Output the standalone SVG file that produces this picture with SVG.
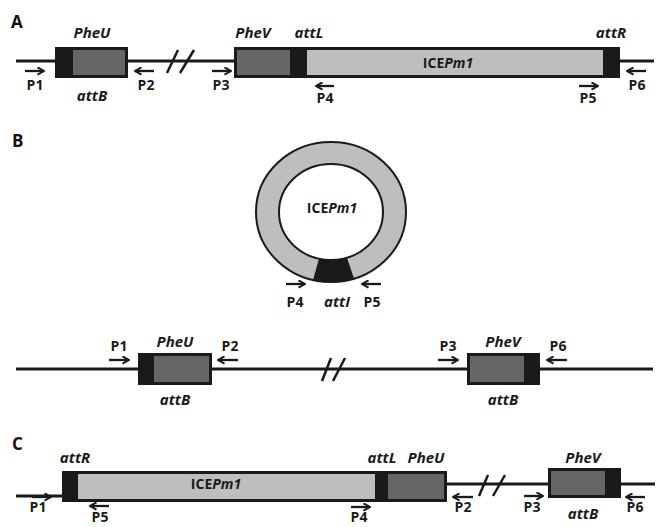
<svg xmlns="http://www.w3.org/2000/svg" width="656" height="527" viewBox="0 0 656 527">
<style>
.bb{stroke:#1a1a1a;stroke-width:3;fill:none}
.sl{stroke:#1a1a1a;stroke-width:2.5;fill:none}
.ar{stroke:#1a1a1a;stroke-width:2.3;fill:none;marker-end:url(#ah)}
.dk{fill:#666666;stroke:#1a1a1a;stroke-width:3}
.bk{fill:#1a1a1a}
.p{font-family:"Open Sans","Liberation Sans",sans-serif;font-weight:bold;font-size:14px;fill:#1a1a1a;text-anchor:middle}
.g{font-family:"Open Sans","Liberation Sans",sans-serif;font-weight:bold;font-style:italic;font-size:15px;fill:#1a1a1a;text-anchor:middle}
.ice{font-family:"Open Sans","Liberation Sans",sans-serif;font-weight:bold;font-size:14px;fill:#1a1a1a;text-anchor:middle}
.lab{font-family:"Open Sans","Liberation Sans",sans-serif;font-weight:bold;font-size:17px;fill:#111}
</style>
<defs>
<marker id="ah" viewBox="0 0 9 9" refX="8" refY="4.5" markerWidth="9" markerHeight="9" markerUnits="userSpaceOnUse" orient="auto">
<path d="M1.5,0.8 L8,4.5 L1.5,8.2" fill="none" stroke="#1a1a1a" stroke-width="2"/>
</marker>
</defs>

<g id="connectors">
<line class="bb" x1="16" y1="61" x2="55" y2="61"/>
<line class="bb" x1="128" y1="61" x2="234" y2="61"/>
<line class="bb" x1="620" y1="61" x2="654" y2="61"/>
<line class="sl" x1="167" y1="73" x2="178" y2="50"/>
<line class="sl" x1="180" y1="73" x2="194" y2="50"/>
<line class="bb" x1="16" y1="369" x2="138" y2="369"/>
<line class="bb" x1="212" y1="369" x2="467" y2="369"/>
<line class="bb" x1="540" y1="369" x2="653" y2="369"/>
<line class="sl" x1="322" y1="381" x2="331" y2="358"/>
<line class="sl" x1="333" y1="381" x2="345" y2="358"/>
<line class="bb" x1="16" y1="496" x2="62" y2="496"/>
<line class="bb" x1="447" y1="484" x2="548" y2="484"/>
<line class="bb" x1="621" y1="484" x2="655" y2="484"/>
<line class="sl" x1="479" y1="496" x2="488" y2="475"/>
<line class="sl" x1="493" y1="496" x2="505" y2="475"/>
</g>

<g id="panel-labels">
<text class="lab" x="11" y="28">A</text>
<text class="lab" x="12" y="147">B</text>
<text class="lab" x="12" y="450">C</text>
</g>

<g id="A-pheU">
<rect class="dk" x="56.5" y="48.5" width="70" height="28"/>
<rect class="bk" x="55" y="47" width="18" height="31"/>
<text class="g" x="92" y="38">PheU</text>
<text class="g" x="92" y="101">attB</text>
</g>
<g id="A-ice">
<rect x="235.5" y="48.5" width="383" height="28" fill="#bebebe" stroke="#1a1a1a" stroke-width="3"/>
<rect x="237" y="50" width="53" height="25" fill="#666666"/>
<rect class="bk" x="290" y="47" width="17" height="31"/>
<rect class="bk" x="603" y="47" width="17" height="31"/>
<text class="g" x="253" y="38">PheV</text>
<text class="g" x="309" y="38">attL</text>
<text class="g" x="611" y="38">attR</text>
<text class="ice" x="448" y="68">ICE<tspan font-style="italic">Pm1</tspan></text>
</g>
<g id="A-primers">
<line class="ar" x1="25" y1="71" x2="44" y2="71"/><text class="p" x="35" y="90">P1</text>
<line class="ar" x1="154" y1="71" x2="135" y2="71"/><text class="p" x="146" y="90">P2</text>
<line class="ar" x1="212" y1="71" x2="231" y2="71"/><text class="p" x="221" y="90">P3</text>
<line class="ar" x1="334" y1="86" x2="316" y2="86"/><text class="p" x="325" y="103">P4</text>
<line class="ar" x1="579" y1="86" x2="598" y2="86"/><text class="p" x="588" y="103">P5</text>
<line class="ar" x1="646" y1="71" x2="627" y2="71"/><text class="p" x="637" y="90">P6</text>
</g>

<g id="B-circle">
<path d="M256,212 A75,70 0 1 0 406,212 A75,70 0 1 0 256,212 Z M279,212 A52,48 0 1 0 383,212 A52,48 0 1 0 279,212 Z" fill="#bebebe" fill-rule="evenodd"/>
<path class="bk" d="M313,280 A75,70 0 0 0 354,278.6 L347,257.7 A52,48 0 0 1 319,258.7 Z"/>
<ellipse cx="331" cy="212" rx="75" ry="70" fill="none" stroke="#1a1a1a" stroke-width="2"/>
<ellipse cx="331" cy="212" rx="52" ry="48" fill="none" stroke="#1a1a1a" stroke-width="2"/>
<text class="ice" x="332" y="213" font-size="15">ICE<tspan font-style="italic">Pm1</tspan></text>
<line class="ar" x1="286" y1="284" x2="305" y2="284"/><text class="p" x="295" y="307">P4</text>
<text class="g" x="337" y="307">attI</text>
<line class="ar" x1="381" y1="284" x2="362" y2="284"/><text class="p" x="372" y="307">P5</text>
</g>

<g id="B-pheU">
<rect class="dk" x="139.5" y="354.5" width="71" height="29"/>
<rect class="bk" x="138" y="353" width="16" height="32"/>
<text class="g" x="175" y="347">PheU</text>
<text class="g" x="175" y="405">attB</text>
</g>
<g id="B-pheV">
<rect class="dk" x="468.5" y="354.5" width="70" height="29"/>
<rect class="bk" x="524" y="353" width="16" height="32"/>
<text class="g" x="503" y="347">PheV</text>
<text class="g" x="503" y="405">attB</text>
</g>
<g id="B-primers">
<line class="ar" x1="109" y1="360" x2="129" y2="360"/><text class="p" x="119" y="351">P1</text>
<line class="ar" x1="238" y1="360" x2="218" y2="360"/><text class="p" x="230" y="351">P2</text>
<line class="ar" x1="438" y1="360" x2="458" y2="360"/><text class="p" x="448" y="351">P3</text>
<line class="ar" x1="567" y1="360" x2="547" y2="360"/><text class="p" x="558" y="351">P6</text>
</g>

<g id="C-ice">
<rect x="63.5" y="472.5" width="382" height="28" fill="#bebebe" stroke="#1a1a1a" stroke-width="3"/>
<rect x="388" y="474" width="56" height="25" fill="#666666"/>
<rect class="bk" x="62" y="471" width="16" height="31"/>
<rect class="bk" x="375" y="471" width="13" height="31"/>
<text class="g" x="75" y="463">attR</text>
<text class="g" x="382" y="463">attL</text>
<text class="g" x="426" y="463">PheU</text>
<text class="ice" x="216" y="489">ICE<tspan font-style="italic">Pm1</tspan></text>
</g>
<g id="C-pheV">
<rect class="dk" x="549.5" y="469.5" width="70" height="27"/>
<rect class="bk" x="605" y="468" width="16" height="30"/>
<text class="g" x="583" y="463">PheV</text>
<text class="g" x="583" y="519">attB</text>
</g>
<g id="C-primers">
<line class="ar" x1="32" y1="497" x2="51" y2="497"/><text class="p" x="38" y="512">P1</text>
<line class="ar" x1="109" y1="506" x2="90" y2="506"/><text class="p" x="100" y="522" font-size="11">P5</text>
<line class="ar" x1="351" y1="507" x2="370" y2="507"/><text class="p" x="359" y="522" font-size="11">P4</text>
<line class="ar" x1="473" y1="497" x2="453" y2="497"/><text class="p" x="463" y="512">P2</text>
<line class="ar" x1="524" y1="496" x2="543" y2="496"/><text class="p" x="532" y="512">P3</text>
<line class="ar" x1="645" y1="497" x2="626" y2="497"/><text class="p" x="635" y="512">P6</text>
</g>
</svg>
